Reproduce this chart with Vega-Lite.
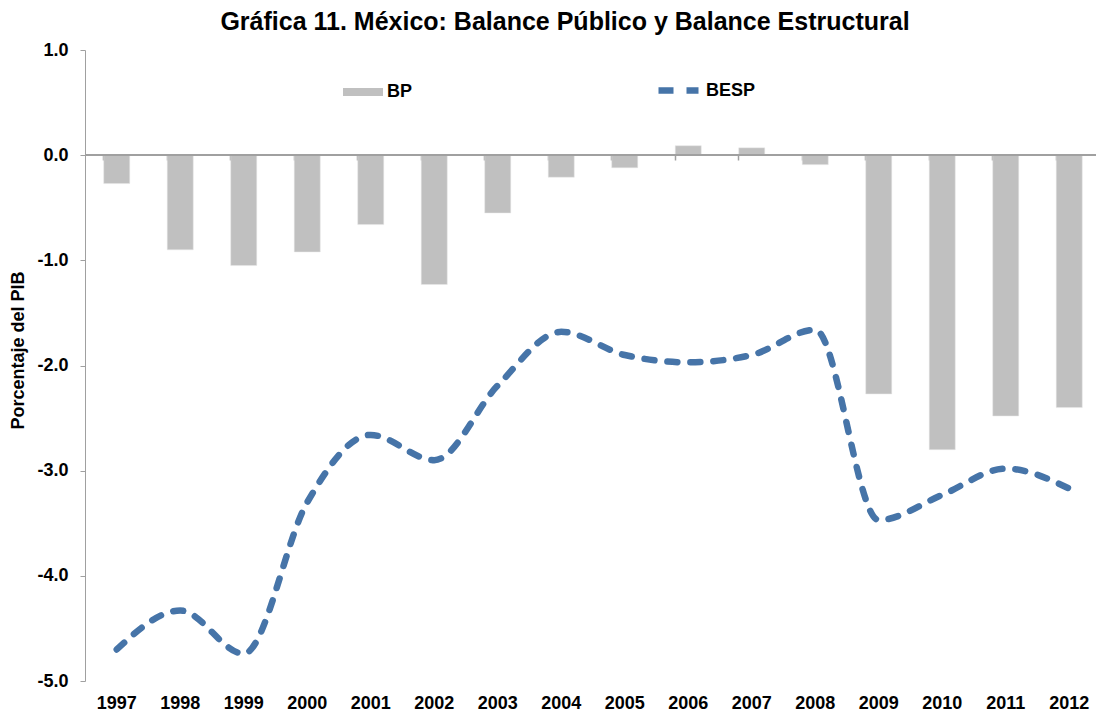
{
  "$schema": "https://vega.github.io/schema/vega-lite/v6.json",
  "width": 1016,
  "height": 631,
  "autosize": {"type": "none"},
  "padding": {"left": 85, "top": 50, "right": 0, "bottom": 35},
  "background": "white",
  "title": {
    "text": "Gráfica 11. México: Balance Público y Balance Estructural",
    "font": "Liberation Sans",
    "fontSize": 25,
    "fontWeight": "bold",
    "color": "#000000",
    "anchor": "middle",
    "baseline": "alphabetic",
    "offset": 18,
    "dx": -28,
    "dy": 32
  },
  "config": {
    "view": {"stroke": null},
    "axis": {
      "labelFont": "Liberation Sans",
      "labelFontWeight": "bold",
      "labelFontSize": 18,
      "labelColor": "#000000",
      "titleFont": "Liberation Sans",
      "titleFontWeight": "bold",
      "titleFontSize": 18,
      "titleColor": "#000000",
      "domainColor": "#a0a0a0",
      "tickColor": "#a0a0a0",
      "grid": false
    },
    "legend": {
      "labelFont": "Liberation Sans",
      "labelFontWeight": "bold",
      "labelFontSize": 18,
      "labelColor": "#000000"
    }
  },
  "data": {
    "values": [
      {"year": "1997", "BP": -0.27, "BESP": -4.70},
      {"year": "1998", "BP": -0.90, "BESP": -4.33},
      {"year": "1999", "BP": -1.05, "BESP": -4.74},
      {"year": "2000", "BP": -0.92, "BESP": -3.30},
      {"year": "2001", "BP": -0.66, "BESP": -2.66},
      {"year": "2002", "BP": -1.23, "BESP": -2.90},
      {"year": "2003", "BP": -0.55, "BESP": -2.19},
      {"year": "2004", "BP": -0.21, "BESP": -1.68},
      {"year": "2005", "BP": -0.12, "BESP": -1.90},
      {"year": "2006", "BP": 0.09, "BESP": -1.97},
      {"year": "2007", "BP": 0.07, "BESP": -1.90},
      {"year": "2008", "BP": -0.09, "BESP": -1.66},
      {"year": "2009", "BP": -2.27, "BESP": -3.47},
      {"year": "2010", "BP": -2.80, "BESP": -3.23},
      {"year": "2011", "BP": -2.48, "BESP": -2.98},
      {"year": "2012", "BP": -2.40, "BESP": -3.17}
    ]
  },
  "layer": [
    {
      "mark": {"type": "bar", "stroke": "#e8e8e8", "strokeWidth": 0.5},
      "encoding": {
        "x": {
          "field": "year",
          "type": "nominal",
          "scale": {"paddingInner": 0.59, "paddingOuter": 0.295},
          "axis": {
            "orient": "bottom",
            "title": null,
            "labelAngle": 0,
            "domain": false,
            "ticks": false,
            "tickSize": 0,
            "labelPadding": 13
          }
        },
        "y": {
          "field": "BP",
          "type": "quantitative",
          "scale": {"domain": [-5, 1], "nice": false, "zero": false},
          "axis": {
            "title": "Porcentaje del PIB",
            "values": [-5, -4, -3, -2, -1, 0, 1],
            "labelExpr": "replace(format(datum.value, '.1f'), '\u2212', '-')",
            "tickSize": 5,
            "labelPadding": 12,
            "titlePadding": 9,
            "titleY": 300
          }
        },
        "fill": {
          "datum": "BP",
          "type": "nominal",
          "scale": {"domain": ["BP"], "range": ["#c0c0c0"]},
          "legend": {
            "title": null,
            "orient": "none",
            "legendX": 258,
            "legendY": 22,
            "symbolType": "M-1,-0.2H1V0.2H-1Z",
            "symbolSize": 1600,
            "symbolStrokeWidth": 0,
            "labelOffset": 4
          }
        }
      }
    },
    {
      "mark": {"type": "rule", "color": "#a0a0a0", "strokeWidth": 1.5},
      "encoding": {"y": {"datum": 0}}
    },
    {
      "mark": {
        "type": "line",
        "interpolate": "monotone",
        "strokeWidth": 6.5,
        "strokeDash": [10, 13],
        "strokeCap": "round"
      },
      "encoding": {
        "x": {
          "field": "year",
          "type": "nominal",
          "axis": {
            "orient": "bottom",
            "offset": -526,
            "title": null,
            "labels": false,
            "domain": false,
            "ticks": true,
            "tickSize": 5,
            "tickWidth": 1.5,
            "bandPosition": 0
          }
        },
        "y": {"field": "BESP", "type": "quantitative"},
        "stroke": {
          "datum": "BESP",
          "type": "nominal",
          "scale": {"domain": ["BESP"], "range": ["#4674a8"]},
          "legend": {
            "title": null,
            "orient": "none",
            "legendX": 570,
            "legendY": 17,
            "symbolType": "stroke",
            "symbolSize": 1600,
            "symbolStrokeWidth": 6.5,
            "symbolDash": [15, 13],
            "labelOffset": 4
          }
        }
      }
    }
  ],
  "resolve": {"axis": {"x": "independent"}, "scale": {"fill": "independent", "stroke": "independent"}}
}
